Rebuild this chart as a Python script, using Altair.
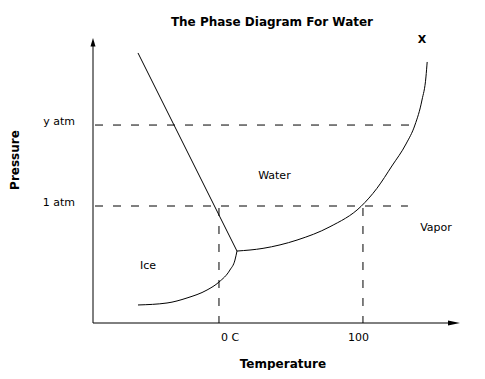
import altair as alt
import pandas as pd

# ---- data (schematic units: temperature ~ deg C, pressure ~ atm) ----
melt_T = [-56.25, 12.5]
melt_P = [2.308, 0.615]

subl_T = [-56.25, -36.1, -22.2, -8.3, 0.0, 7.6, 11.1, 12.5]
subl_P = [0.154, 0.171, 0.214, 0.282, 0.350, 0.453, 0.538, 0.615]

vap_T = [12.5, 30.6, 54.2, 77.1, 98.6, 109.7, 120.1, 129.9, 136.1, 141.0, 143.75, 144.6]
vap_P = [0.615, 0.638, 0.709, 0.823, 0.996, 1.151, 1.342, 1.530, 1.692, 1.906, 2.103, 2.231]

hline_P = [1.692, 1.0]
hline_T_start = [-87.5, -87.5]
hline_T_end = [132.6, 131.25]

vline_T = [0.0, 100.0]
vline_P_top = [1.0, 1.0]

axis_T0, axis_T1 = -87.5, 163.0
axis_P0, axis_P1 = 0.0, 2.40

label_text = ["1 atm", "y atm", "0 C", "100", "Water", "Vapor", "Ice"]
label_T = [-100.0, -100.0, 1.4, 89.6, 38.5, 150.7, -49.3]
label_P = [1.0, 1.692, -0.154, -0.154, 1.231, 0.786, 0.462]
label_align = ["right", "right", "left", "left", "center", "center", "center"]

bold_text = ["The Phase Diagram For Water", "Temperature", "X"]
bold_T = [36.8, 44.4, 141.0]
bold_P = [2.538, -0.385, 2.393]
bold_size = [12, 12, 11]

ylab_text = ["Pressure"]
ylab_T = [-142.0]
ylab_P = [1.393]

FONT = "DejaVu Sans"

xs = alt.Scale(domain=[-87.5, 167.4], nice=False, zero=False)
ys = alt.Scale(domain=[0, 2.436], nice=False, zero=False)

def X(f="T"):
    return alt.X(f"{f}:Q", scale=xs, axis=None)

def Y(f="P"):
    return alt.Y(f"{f}:Q", scale=ys, axis=None)

def curve(Ts, Ps):
    return pd.DataFrame({"T": Ts, "P": Ps, "o": list(range(len(Ts)))})

melt = alt.Chart(curve(melt_T, melt_P)).mark_line(color="black", strokeWidth=1).encode(
    x=X(), y=Y(), order="o:Q")
subl = alt.Chart(curve(subl_T, subl_P)).mark_line(color="black", strokeWidth=1, interpolate="monotone").encode(
    x=X(), y=Y(), order="o:Q")
vap = alt.Chart(curve(vap_T, vap_P)).mark_line(color="black", strokeWidth=1, interpolate="monotone").encode(
    x=X(), y=Y(), order="o:Q")

hdf = pd.DataFrame({"T": hline_T_start, "T2": hline_T_end, "P": hline_P})
hlines = alt.Chart(hdf).mark_rule(color="black", strokeWidth=1, strokeDash=[8, 10], strokeDashOffset=-2).encode(
    x=X(), x2="T2:Q", y=Y())

vdf = pd.DataFrame({"T": vline_T, "P": vline_P_top, "P2": [0.0, 0.0]})
vlines = alt.Chart(vdf).mark_rule(color="black", strokeWidth=1, strokeDash=[8, 10], strokeDashOffset=-2).encode(
    x=X(), y=Y(), y2="P2:Q")

xaxis = alt.Chart(pd.DataFrame({"T": [axis_T0], "T2": [axis_T1], "P": [axis_P0]})).mark_rule(
    color="black", strokeWidth=1).encode(x=X(), x2="T2:Q", y=Y())
yaxis = alt.Chart(pd.DataFrame({"T": [axis_T0], "P": [axis_P0], "P2": [axis_P1]})).mark_rule(
    color="black", strokeWidth=1).encode(x=X(), y=Y(), y2="P2:Q")

arrow_up = alt.Chart(pd.DataFrame({"T": [axis_T0], "P": [2.436]})).mark_point(
    shape="M0,0L0.42,1.4L-0.42,1.4Z", size=144, filled=True, color="black", opacity=1).encode(x=X(), y=Y())
arrow_right = alt.Chart(pd.DataFrame({"T": [167.4], "P": [0.0]})).mark_point(
    shape="M0,0L-2,-0.4L-2,0.4Z", size=144, filled=True, color="black", opacity=1).encode(x=X(), y=Y())

ldf = pd.DataFrame({"text": label_text, "T": label_T, "P": label_P, "align": label_align})
layers_text = []
for al in ["left", "right", "center"]:
    sub = ldf[ldf["align"] == al]
    layers_text.append(alt.Chart(sub).mark_text(align=al, baseline="alphabetic", font=FONT, fontSize=11,
                                                color="black").encode(x=X(), y=Y(), text="text:N"))

bdf = pd.DataFrame({"text": bold_text, "T": bold_T, "P": bold_P, "s": bold_size})
bold = alt.Chart(bdf).mark_text(align="center", baseline="alphabetic", font=FONT,
                                fontWeight="bold", color="black").encode(
    x=X(), y=Y(), text="text:N", size=alt.Size("s:Q", scale=None, legend=None))

ydf = pd.DataFrame({"text": ylab_text, "T": ylab_T, "P": ylab_P})
ylab = alt.Chart(ydf).mark_text(align="center", baseline="middle", angle=270, font=FONT, fontSize=12,
                                fontWeight="bold", color="black").encode(x=X(), y=Y(), text="text:N")

chart = alt.layer(hlines, vlines, xaxis, yaxis, arrow_up, arrow_right, melt, subl, vap,
                  *layers_text, bold, ylab).properties(
    width=367, height=285,
    autosize=alt.AutoSizeParams(type="none"),
    padding={"left": 85, "top": 30, "right": 16, "bottom": 47},
    background="white",
).configure_view(stroke=None)

chart.save("out.html", embed_options={"renderer": "svg", "actions": False})
